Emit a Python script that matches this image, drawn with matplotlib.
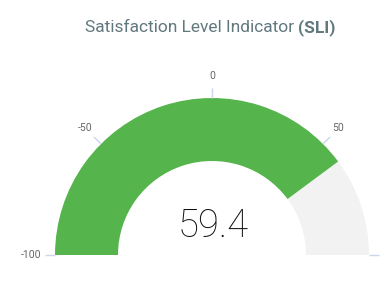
import numpy as np
import matplotlib.pyplot as plt
from matplotlib.patches import Wedge

# gauge data
vmin, vmax = -100, 100
value = 59.4
tick_values = [-100, -50, 0, 50, 100]
title_main = "Satisfaction Level Indicator "
title_bold = "(SLI)"

W, H = 382, 288
fig = plt.figure(figsize=(W / 100, H / 100), dpi=100)
ax = fig.add_axes([0, 0, 1, 1])
ax.set_xlim(0, W)
ax.set_ylim(0, H)
ax.set_aspect('equal')
ax.axis('off')

cx, cy = 212, H - 255
R, r = 157, 94


def ang(v):
    return 180 - (v - vmin) / (vmax - vmin) * 180


a_val = ang(value)
ax.add_patch(Wedge((cx, cy), R, 0, a_val, width=R - r, color='#f2f2f2', lw=0))
ax.add_patch(Wedge((cx, cy), R, a_val, 180, width=R - r, color='#55b54c', lw=0))

# ticks and labels (the 100 label falls outside the canvas in the original)
for t in tick_values:
    a = np.radians(ang(t))
    ax.plot([cx + R * np.cos(a), cx + (R + 10) * np.cos(a)],
            [cy + R * np.sin(a), cy + (R + 10) * np.sin(a)],
            color='#ccd6eb', lw=1, solid_capstyle='butt')
    if t == vmax:
        continue
    lr = R + 22
    lx, ly = cx + lr * np.cos(a), cy + lr * np.sin(a)
    if t == vmin:
        lx, ly = cx - R - 24, cy
    ax.text(lx, ly, str(t), ha='center', va='center', fontsize=7.5,
            color='#666666', family='Roboto')

# value
ax.text(cx + 1, H - 237, f"{value}", ha='center', va='baseline', fontsize=27.5,
        color='#111111', family='Roboto', fontweight='light')

# title
t1 = ax.text(0, H - 28, title_main, ha='left', va='center', fontsize=12.5,
             color='#60787e', family='Roboto')
t2 = ax.text(0, H - 28, title_bold, ha='left', va='center', fontsize=12.5,
             color='#60787e', family='Roboto', fontweight='bold')
fig.canvas.draw()
rend = fig.canvas.get_renderer()
w1 = t1.get_window_extent(rend).width
w2 = t2.get_window_extent(rend).width
x0 = 210 - (w1 + w2) / 2
t1.set_x(x0)
t2.set_x(x0 + w1)

fig.savefig('out.png', dpi=100)
